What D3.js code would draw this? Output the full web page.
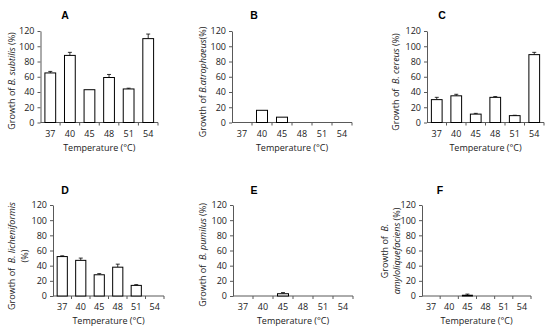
<!DOCTYPE html>
<html>
<head>
<meta charset="utf-8">
<script src="https://cdn.jsdelivr.net/npm/d3@7"></script>
<style>
  body { margin: 0; background: #fff; }
  text { font-family: "Open Sans", "Noto Sans", sans-serif; }
</style>
</head>
<body>
<script>
// data
var temps = ["37", "40", "45", "48", "51", "54"];
var yTicks = [0, 20, 40, 60, 80, 100, 120];

var growthA = [65, 88, 43, 59, 44, 110];
var errA    = [2, 4, 0, 4, 1, 6];
var growthB = [0, 16, 7, 0, 0, 0];
var errB    = [0, 0, 0, 0, 0, 0];
var growthC = [30, 35, 11, 33, 9, 89];
var errC    = [3, 2, 1, 1, 0.5, 3];
var growthD = [52, 47, 28, 38, 14, 0];
var errD    = [1, 3, 1.5, 4, 1, 0];
var growthE = [0, 0, 3, 0, 0, 0];
var errE    = [0, 0, 1.5, 0, 0, 0];
var growthF = [0, 0, 1, 0, 0, 0];
var errF    = [0, 0, 1.5, 0, 0, 0];

var letters = ["A", "B", "C", "D", "E", "F"];
// y-axis titles: each line is a list of [text, italic]
var yTitles = [
  [[["Growth of ", 0], ["B. subtilis", 1], [" (%)", 0]]],
  [[["Growth of ", 0], ["B.atrophaeus", 1], ["(%)", 0]]],
  [[["Growth of  ", 0], ["B. cereus", 1], [" (%)", 0]]],
  [[["Growth of  ", 0], ["B. licheniformis", 1]], [["(%)", 0]]],
  [[["Growth of  ", 0], ["B. pumilus", 1], [" (%)", 0]]],
  [[["Growth of  ", 0], ["B.", 1]], [["amyloliquefaciens", 1], [" (%)", 0]]]
];

var series = [
  {v: growthA, e: errA}, {v: growthB, e: errB}, {v: growthC, e: errC},
  {v: growthD, e: errD}, {v: growthE, e: errE}, {v: growthF, e: errF}
];

// panel layout (pixels)
var layout = [
  {x0: 40.5, x1: 158, top: 31,  bot: 122.5, tx: 65,  ty: 19,  yx: [12],      yc: 81},
  {x0: 232, x1: 352, top: 31,  bot: 122.5, tx: 254, ty: 19,  yx: [203],     yc: 82},
  {x0: 427, x1: 544, top: 31,  bot: 122.5, tx: 442, ty: 19,  yx: [396],     yc: 82},
  {x0: 53,  x1: 164, top: 205, bot: 296,   tx: 65,  ty: 194, yx: [12, 25],  yc: 256},
  {x0: 233, x1: 353, top: 205, bot: 296,   tx: 254, ty: 194, yx: [203],     yc: 255},
  {x0: 422, x1: 531, top: 205, bot: 296,   tx: 440, ty: 194, yx: [385, 397], yc: 251}
];

var svg = d3.select("body").append("svg")
    .attr("width", 550)
    .attr("height", 333);

var axisColor = "#595959";

layout.forEach(function(p, k){
    var g = svg.append("g");
    var d = series[k];

    var x = d3.scaleBand().domain(temps).range([p.x0, p.x1]).paddingInner(0.45).paddingOuter(0.225);
    var y = d3.scaleLinear().domain([0, 120]).range([p.bot, p.top]);

    // y axis
    var ya = g.append("g")
        .attr("transform", "translate(" + p.x0 + ",0)")
        .call(d3.axisLeft(y).tickValues(yTicks).tickSize(3).tickSizeOuter(0).tickPadding(3));
    ya.select(".domain").attr("stroke", axisColor);
    ya.selectAll(".tick line").attr("stroke", axisColor);
    ya.selectAll(".tick text").style("font-size", "9px").attr("fill", "#222");

    // x axis: labels centred, ticks at category boundaries
    var xa = g.append("g")
        .attr("transform", "translate(0," + p.bot + ")")
        .call(d3.axisBottom(x).tickSize(0).tickPadding(8));
    xa.select(".domain").remove();
    xa.selectAll(".tick text").style("font-size", "9px").attr("fill", "#222");
    g.append("line")
        .attr("x1", p.x0).attr("x2", p.x1)
        .attr("y1", p.bot).attr("y2", p.bot)
        .attr("stroke", axisColor);
    var step = x.step();
    g.selectAll(".bt").data(temps).enter().append("line")
        .attr("x1", function(t){ return x(t) + x.bandwidth() + step * 0.225; })
        .attr("x2", function(t){ return x(t) + x.bandwidth() + step * 0.225; })
        .attr("y1", p.bot).attr("y2", p.bot + 3)
        .attr("stroke", axisColor);

    // bars
    var rows = temps.map(function(t, i){ return {t: t, v: d.v[i], e: d.e[i]}; })
        .filter(function(r){ return r.v > 0; });

    g.selectAll(".eb").data(rows.filter(function(r){ return r.e > 0; })).enter()
        .append("path")
        .attr("d", function(r){
            var cx = x(r.t) + x.bandwidth() / 2;
            return "M" + cx + "," + y(r.v) + "V" + y(r.v + r.e) +
                   "M" + (cx - 2) + "," + y(r.v + r.e) + "H" + (cx + 2);
        })
        .attr("stroke", "#000").attr("fill", "none").attr("stroke-width", 0.8);

    g.selectAll(".bar").data(rows).enter().append("rect")
        .attr("x", function(r){ return x(r.t); })
        .attr("y", function(r){ return y(r.v); })
        .attr("width", x.bandwidth())
        .attr("height", function(r){ return p.bot - y(r.v); })
        .attr("fill", "#fff")
        .attr("stroke", "#000")
        .attr("stroke-width", 1);

    // axis title
    g.append("text")
        .attr("x", (p.x0 + p.x1) / 2)
        .attr("y", p.bot + 28)
        .attr("text-anchor", "middle")
        .style("font-size", "9px")
        .attr("fill", "#222")
        .text("Temperature (\u00B0C)");

    // panel letter
    g.append("text")
        .attr("x", p.tx).attr("y", p.ty)
        .attr("text-anchor", "middle")
        .style("font-size", "10.5px")
        .style("font-weight", "bold")
        .style("font-family", "Liberation Sans, Arial, sans-serif")
        .text(letters[k]);

    // y title, rotated
    yTitles[k].forEach(function(line, li){
        var tx = g.append("text")
            .attr("transform", "translate(" + (p.yx[li] + 3) + "," + p.yc + ") rotate(-90)")
            .attr("text-anchor", "middle")
            .style("font-size", "9px")
            .attr("fill", "#222")
            .style("white-space", "pre");
        line.forEach(function(part){
            tx.append("tspan")
                .style("font-style", part[1] ? "italic" : "normal")
                .text(part[0]);
        });
    });
});
</script>
</body>
</html>
